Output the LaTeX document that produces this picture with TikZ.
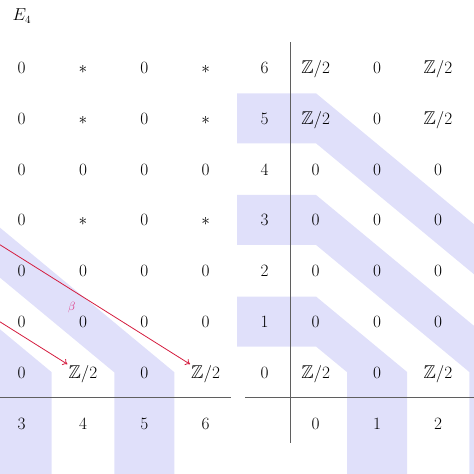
\documentclass[tikz,border=0pt]{standalone}
\usepackage{amssymb}
\usetikzlibrary{arrows.meta}
\definecolor{bandc}{RGB}{224,224,250}
\definecolor{diffc}{RGB}{212,28,62}
\definecolor{betac}{RGB}{222,40,120}
\definecolor{axisc}{RGB}{95,95,95}
\newcommand\ZZtwo{\mathbb{Z}/2}
\begin{document}
\begin{tikzpicture}[x=1pt,y=-1pt,
  cell/.style={anchor=base,inner sep=1pt,font=\fontsize{18.5}{22}\selectfont},
  band/.style={fill=bandc,draw=none},
  axisline/.style={draw=axisc,line width=1.1pt},
  diff/.style={draw=diffc,line width=0.8pt,-{To[length=4.5pt,width=7pt]}},
  lbl/.style={text=betac,font=\fontsize{13}{15}\selectfont,inner sep=0pt}]
\useasboundingbox (0,0) rectangle (474,474);
\clip (0,0) rectangle (474,474);
% shaded bands
\fill[band] (237,93.3) -- (316,93.3) -- (700,411.6) -- (700,461.6) -- (316,143.3) -- (237,143.3) -- cycle;
\fill[band] (237,194.9) -- (316,194.9) -- (529.3,371.7) -- (529.3,480) -- (469.3,480) -- (469.3,372.0) -- (316,244.9) -- (237,244.9) -- cycle;
\fill[band] (237,296.5) -- (316,296.5) -- (407.1,372.0) -- (407.1,480) -- (347.1,480) -- (347.1,372.2) -- (316,346.5) -- (237,346.5) -- cycle;
\fill[band] (-10,219.4) -- (174.3,372.2) -- (174.3,480) -- (114.3,480) -- (114.3,372.4) -- (-10,269.4) -- cycle;
\fill[band] (-10,321.0) -- (51.7,372.2) -- (51.7,480) -- (-10,480) -- cycle;
% axes
\coordinate (hl1) at (0,397.5); \coordinate (hl2) at (231,397.5);
\coordinate (hr1) at (245,397.5); \coordinate (hr2) at (474,397.5);
\coordinate (v1) at (290.5,42); \coordinate (v2) at (290.5,443);
\draw[axisline] (hl1) -- (hl2);
\draw[axisline] (hr1) -- (hr2);
\draw[axisline] (v1) -- (v2);
% title
\node[anchor=base west,inner sep=0pt,font=\fontsize{16}{19}\selectfont] (E) at (12.5,20.5) {$E_4$};
% left grid
\foreach \rr/\y/\a/\b/\c/\d in {6/73.5/0/\ast/0/\ast, 5/124.3/0/\ast/0/\ast, 4/175.1/0/0/0/0, 3/225.9/0/\ast/0/\ast, 2/276.7/0/0/0/0, 1/327.5/0/0/0/0, 0/378.3/0/\ZZtwo/0/\ZZtwo}{
  \node[cell] (L3\rr) at (21.7,\y) {$\a$};
  \node[cell] (L4\rr) at (83.0,\y) {$\b$};
  \node[cell] (L5\rr) at (144.3,\y) {$\c$};
  \node[cell] (L6\rr) at (205.6,\y) {$\d$};
}
\foreach \cc/\x in {3/21.7, 4/83.0, 5/144.3, 6/205.6}{
  \node[cell] (LX\cc) at (\x,429.5) {$\cc$};
}
% right grid
\foreach \rr/\y/\a/\b/\c in {6/73.5/\ZZtwo/0/\ZZtwo, 5/124.3/\ZZtwo/0/\ZZtwo, 4/175.1/0/0/0, 3/225.9/0/0/0, 2/276.7/0/0/0, 1/327.5/0/0/0, 0/378.3/\ZZtwo/0/\ZZtwo}{
  \node[cell] (RY\rr) at (264.7,\y) {$\rr$};
  \node[cell] (R0\rr) at (315.7,\y) {$\a$};
  \node[cell] (R1\rr) at (377.0,\y) {$\b$};
  \node[cell] (R2\rr) at (438.0,\y) {$\c$};
}
\foreach \cc/\x in {0/315.7, 1/377.0, 2/438.0}{
  \node[cell] (RX\cc) at (\x,429.5) {$\cc$};
}
% differentials
\coordinate (d1s) at (-39.6,219.9);
\coordinate (d2s) at (-162.2,219.9);
\draw[diff] (d1s) -- (L60) node[lbl,pos=0.485,yshift=-18pt] (beta) {$\beta$};
\draw[diff] (d2s) -- (L40);
\end{tikzpicture}
\end{document}
